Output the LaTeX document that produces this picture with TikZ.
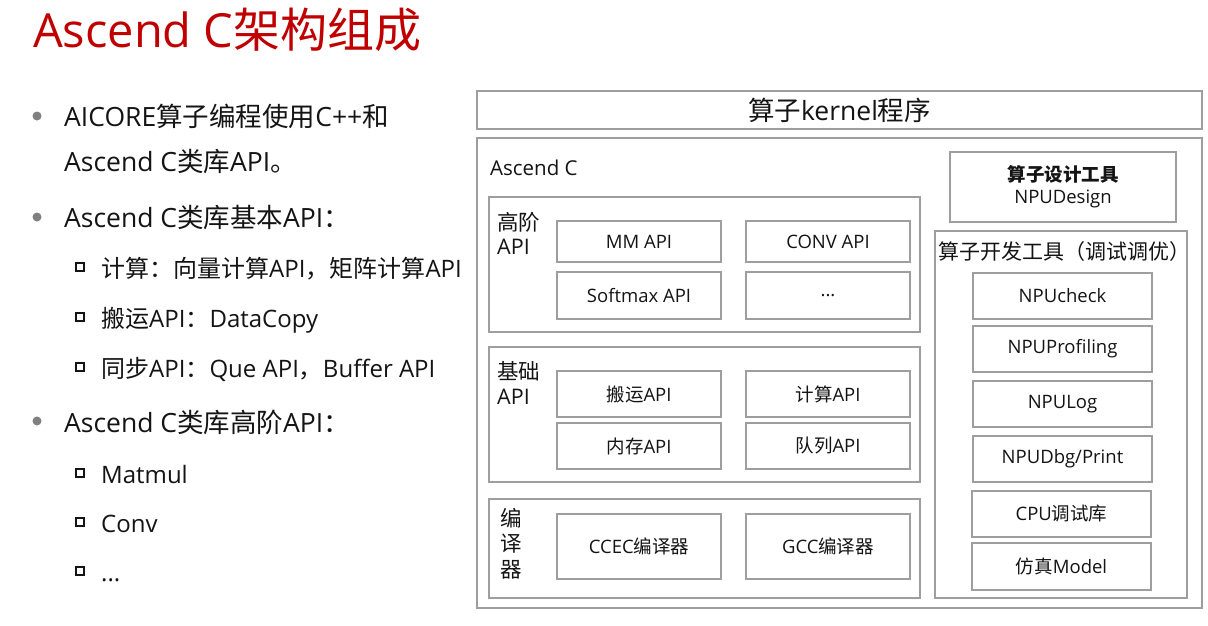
\documentclass[tikz,border=0pt]{standalone}
\usepackage{fontspec}
\setmainfont{Noto Sans CJK SC}
\newfontfamily\latf{Open Sans}
\definecolor{lc}{RGB}{158,158,158}
\definecolor{tc}{RGB}{20,20,20}
\definecolor{titlered}{RGB}{192,0,0}
\definecolor{dotgray}{RGB}{128,128,128}
\newcommand\lt[1]{{\latf #1}}
\tikzset{
  bx/.style={draw=lc, line width=1.3pt, inner sep=0pt, text=tc, align=center, font=\fontsize{18.5}{22}\selectfont},
  grp/.style={draw=lc, line width=1.3pt, inner sep=0pt},
  lbl/.style={inner sep=0pt, text=tc, font=\fontsize{21}{25}\selectfont},
  bl/.style={inner sep=0pt, anchor=base west, text=tc, font=\fontsize{26.5}{30}\selectfont},
  sbl/.style={inner sep=0pt, anchor=base west, text=tc, font=\fontsize{24}{28}\selectfont},
  dotb/.style={circle, fill=dotgray, inner sep=0pt, minimum size=9pt},
  sqb/.style={rectangle, draw=tc, line width=2pt, inner sep=0pt, minimum size=7.2pt},
}
\newcommand\bxn[6]{\node[bx, minimum width={#4-#2}, minimum height={#5-#3}] (#1) at ({(#2+#4)/2},{(#3+#5)/2}) {#6};}
\newcommand\grn[5]{\node[grp, minimum width={#4-#2}, minimum height={#5-#3}] (#1) at ({(#2+#4)/2},{(#3+#5)/2}) {};}
\begin{document}
\begin{tikzpicture}[x=1pt,y=-1pt]
\useasboundingbox[fill=white] (0,0) rectangle (1208,625);
% title
\node[inner sep=0pt, anchor=base west, text=titlered, font=\fontsize{47}{52}\selectfont] (title) at (33,47) {\lt{Ascend C}架构组成};
% bullets
\node[dotb] (d1) at (37,116) {};
\node[bl] (b1) at (64,126) {\lt{AICORE}算子编程使用\lt{C++}和};
\node[bl] (b1b) at (64,171) {\lt{Ascend C}类库\lt{API}。};
\node[dotb] (d2) at (37,217) {};
\node[bl] (b2) at (64,227) {\lt{Ascend C}类库基本\lt{API}：};
\node[sqb] (s1) at (80,267) {};
\node[sbl] (b21) at (101,277) {计算：向量计算\lt{API}，矩阵计算\lt{API}};
\node[sqb] (s2) at (80,317) {};
\node[sbl] (b22) at (101,327) {搬运\lt{API}：\lt{DataCopy}};
\node[sqb] (s3) at (80,367) {};
\node[sbl] (b23) at (101,377) {同步\lt{API}：\lt{Que API}，\lt{Buffer API}};
\node[dotb] (d3) at (37,421) {};
\node[bl] (b3) at (64,432) {\lt{Ascend C}类库高阶\lt{API}：};
\node[sqb] (s4) at (80,473) {};
\node[sbl] (b31) at (101,483) {\lt{Matmul}};
\node[sqb] (s5) at (80,522) {};
\node[sbl] (b32) at (101,532) {\lt{Conv}};
\node[sqb] (s6) at (80,571) {};
\node[sbl] (b33) at (101,581) {\lt{...}};
% right diagram
\node[bx, minimum width=725, minimum height=38, font=\fontsize{26.5}{30}\selectfont] (kern) at (839.5,110) {算子\lt{kernel}程序};
\grn{outer}{477}{138}{1202}{608}
\node[lbl, anchor=west, font=\fontsize{20.5}{25}\selectfont] (asc) at (490,168) {\lt{Ascend C}};
% high-level API
\grn{ghigh}{489}{197}{920}{332}
\node[lbl, anchor=north west, align=left, font=\fontsize{21.5}{24.5}\selectfont] (lhigh) at (497,212) {高阶\\\lt{API}};
\bxn{mm}{557}{221}{721}{262}{\lt{MM API}}
\bxn{conv}{746}{221}{910}{262}{\lt{CONV API}}
\bxn{soft}{557}{272}{721}{319}{\lt{Softmax API}}
\bxn{etc}{746}{272}{910}{319}{\lt{...}}
% basic API
\grn{gbase}{489}{347}{920}{482}
\node[lbl, anchor=north west, align=left, font=\fontsize{21.5}{25.5}\selectfont] (lbase) at (497,361) {基础\\\lt{API}};
\bxn{move}{557}{371}{721}{417}{搬运\lt{API}}
\bxn{calc}{746}{371}{910}{417}{计算\lt{API}}
\bxn{mem}{557}{423}{721}{469}{内存\lt{API}}
\bxn{que}{746}{423}{910}{469}{队列\lt{API}}
% compiler
\grn{gcomp}{489}{499}{920}{598}
\node[lbl, anchor=north, align=center, font=\fontsize{21.5}{25.5}\selectfont] (lcomp) at (511,508) {编\\译\\器};
\bxn{ccec}{557}{514}{721}{579}{\lt{CCEC}编译器}
\bxn{gcc}{746}{514}{910}{579}{\lt{GCC}编译器}
% tools
\bxn{design}{950}{152}{1176}{222}{{\bfseries 算子设计工具}\\\lt{NPUDesign}}
\grn{gtool}{935}{231}{1187}{598}
\node[lbl, anchor=center, font=\fontsize{21}{25}\selectfont] (ltool) at (1064,252) {算子开发工具（调试调优）};
\bxn{t1}{973}{273}{1152}{319}{\lt{NPUcheck}}
\bxn{t2}{973}{326}{1152}{372}{\lt{NPUProfiling}}
\bxn{t3}{973}{381}{1152}{427}{\lt{NPULog}}
\bxn{t4}{973}{436}{1152}{482}{\lt{NPUDbg/Print}}
\bxn{t5}{972}{491}{1151}{537}{\lt{CPU}调试库}
\bxn{t6}{972}{543}{1151}{590}{仿真\lt{Model}}
\end{tikzpicture}
\end{document}
